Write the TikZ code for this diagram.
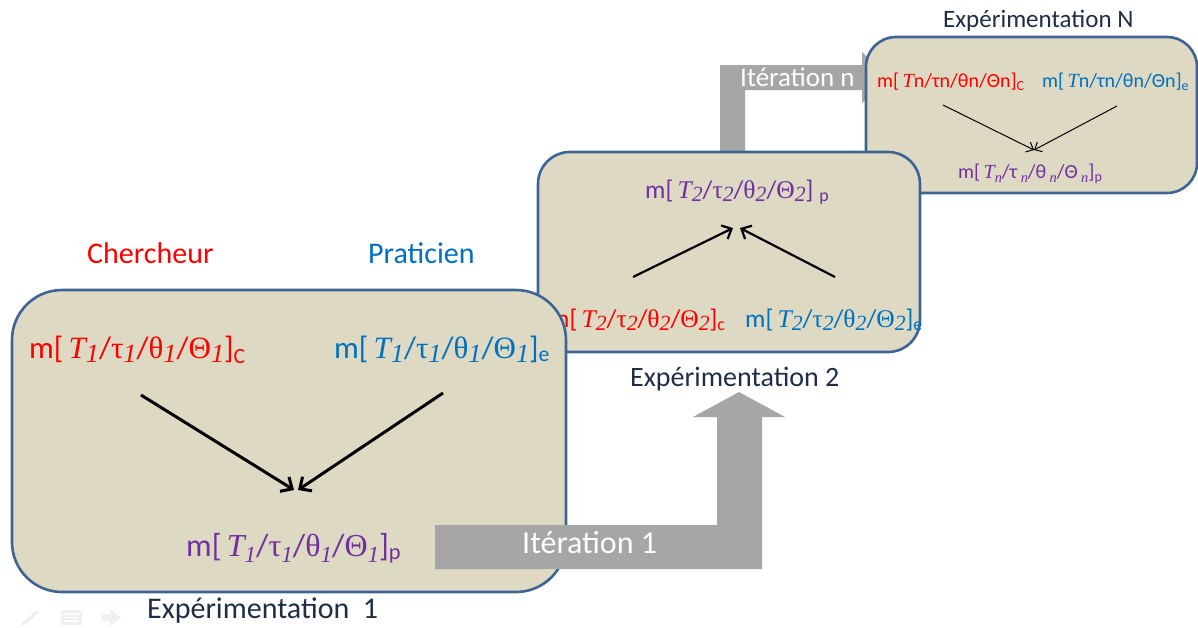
\documentclass[tikz,border=0pt]{standalone}
\usepackage{fontspec}
\setmainfont{Carlito}
\newfontfamily\sr{Liberation Serif}
\usepackage{graphicx}
\usetikzlibrary{arrows.meta}
\definecolor{boxfill}{HTML}{DDD9C3}
\definecolor{boxline}{HTML}{3C6494}
\definecolor{cred}{HTML}{FF0000}
\definecolor{cblue}{HTML}{0070C0}
\definecolor{cpurple}{HTML}{7030A0}
\definecolor{agray}{HTML}{A6A6A6}
\definecolor{navy}{HTML}{1F2E45}
\newcommand\sbx[1]{\raisebox{-0.3ex}{\scalebox{0.85}{\sr\itshape #1}}}
\newcommand\sbp[1]{\raisebox{-0.45ex}{\scalebox{0.72}{\sr\itshape #1}}}
\newcommand\labA[2]{m[\,{\sr\itshape T}\sbx{#1}/{\sr τ}\sbx{#1}/{\sr θ}\sbx{#1}/{\sr Θ}\sbx{#1}]\textsubscript{#2}}
\newcommand\labP[2]{m[\,{\sr\itshape T}\sbp{#1}/{\sr τ}\sbp{#1}/{\sr θ}\sbp{#1}/{\sr Θ}\sbp{#1}]\textsubscript{#2}}
\newcommand\labN[1]{m[\,{\sr\itshape T}n/τn/θn/Θn]\textsubscript{#1}}
\newcommand\labNp[1]{m[\,{\sr\itshape T}\sbp{n}/τ\,\sbp{n}/θ\,\sbp{n}/Θ\,\sbp{n}]\textsubscript{#1}}
\tikzset{
  box/.style={draw=boxline, fill=boxfill, line width=2.6pt, rectangle, inner sep=0pt},
  txt/.style={inner sep=0pt, anchor=base west},
  fbig/.style={font=\fontsize{31}{36}\selectfont},
  fmid/.style={font=\fontsize{25.5}{30}\selectfont},
  fsml/.style={font=\fontsize{20}{24}\selectfont},
  conA/.style={line width=3pt, -{Straight Barb[length=9pt,width=17pt]}},
  conB/.style={line width=2.2pt, -{Straight Barb[length=8pt,width=15pt]}},
  conC/.style={line width=1pt, -{Straight Barb[length=6pt,width=11pt]}},
}
\begin{document}
\begin{tikzpicture}[x=1pt,y=-1pt]
\useasboundingbox[fill=white] (0,0) rectangle (1198,627);
% Iteration n arrow (behind boxes)
\fill[agray] (720,160) -- (720,65) -- (862,65) -- (862,52) -- (888,77.5) -- (862,103) -- (862,90) -- (745,90) -- (745,160) -- cycle;
\node[txt, text=white, font=\fontsize{27}{32}\selectfont] (itn) at (740,86) {Itération n};
% Box 3
\node[box, rounded corners=30pt, minimum width=331pt, minimum height=156pt] (b3) at (1031.5,115) {};
\node[txt, text=navy, font=\fontsize{25}{30}\selectfont] (e3) at (943,27) {Expérimentation N};
\node[txt, fsml, text=cred] (r3) at (877,87) {\labN{C}};
\node[txt, fsml, text=cblue] (bl3) at (1042,87) {\labN{e}};
\node[txt, fsml, text=cpurple] (p3) at (958,178) {\labNp{p}};
\coordinate (c3a) at (943,105);
\coordinate (c3b) at (1117,106);
\coordinate (c3t) at (1034,150);
\draw[conC] (c3a) -- (c3t);
\draw[conC] (c3b) -- (c3t);
% Box 2
\node[box, rounded corners=32pt, minimum width=382pt, minimum height=200pt] (b2) at (729,252) {};
\node[txt, text=navy, font=\fontsize{28}{33}\selectfont] (e2) at (630,386) {Expérimentation 2};
\node[txt, fmid, text=cpurple] (p2) at (645,198) {\labA{2}{\,\,p}};
\node[txt, fmid, text=cred] (r2) at (549,327) {\labA{2}{c}};
\node[txt, fmid, text=cblue] (bl2) at (745,327) {\labA{2}{e}};
\coordinate (c2a) at (633,277);
\coordinate (c2b) at (835,277);
\coordinate (c2l) at (733,228);
\coordinate (c2r) at (740,228);
\draw[conB] (c2a) -- (c2l);
\draw[conB] (c2b) -- (c2r);
% Box 1
\node[box, rounded corners=50pt, minimum width=554pt, minimum height=302pt] (b1) at (289,441) {};
\node[txt, text=cred, font=\fontsize{30}{35}\selectfont] (ch) at (87,263) {Chercheur};
\node[txt, text=cblue, font=\fontsize{30}{35}\selectfont] (pr) at (368,263) {Praticien};
\node[txt, fbig, text=cred] (r1) at (29,358) {\labA{1}{C}};
\node[txt, fbig, text=cblue] (bl1) at (334,358) {\labA{1}{e}};
\node[txt, text=cpurple, font=\fontsize{32}{37}\selectfont] (p1) at (186,556) {\labP{1}{p}};
\node[txt, text=navy, font=\fontsize{30}{35}\selectfont] (e1) at (147,618) {Expérimentation\ \ 1};
\coordinate (c1a) at (141,395);
\coordinate (c1b) at (443,393);
\coordinate (c1l) at (294,490);
\coordinate (c1r) at (298,490);
\draw[conA] (c1a) -- (c1l);
\draw[conA] (c1b) -- (c1r);
% Iteration 1 arrow (on top)
\fill[agray] (435,525) -- (717,525) -- (717,417) -- (693,417) -- (739,392) -- (785,417) -- (762,417) -- (762,569) -- (435,569) -- cycle;
\node[txt, text=white, font=\fontsize{32}{38}\selectfont] (it1) at (522,553) {Itération 1};
% faint toolbar icons
\draw[gray!14, line width=3pt, line cap=round] (23,624) -- (37,612);
\fill[gray!12, rounded corners=2pt] (61,610) rectangle (82,625);
\draw[white, line width=1.2pt] (64,614) -- (79,614) (64,617.5) -- (79,617.5) (64,621) -- (79,621);
\fill[gray!12] (102,614) -- (110,614) -- (110,609) -- (121,617.5) -- (110,626) -- (110,621) -- (102,621) -- cycle;
\end{tikzpicture}
\end{document}
